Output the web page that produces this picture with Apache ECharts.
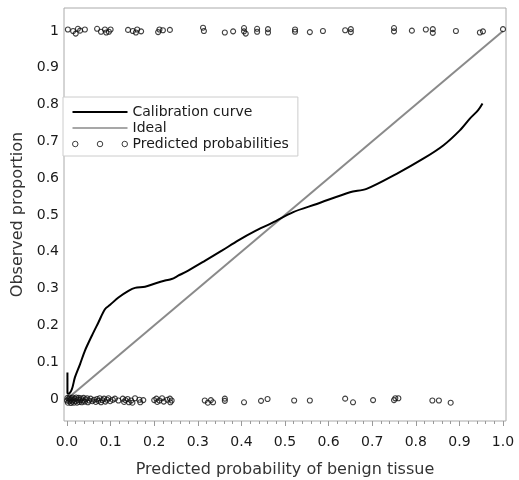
<!DOCTYPE html>
<html>
<head>
<meta charset="utf-8">
<script src="https://cdn.jsdelivr.net/npm/echarts@6/dist/echarts.min.js"></script>
<style>
  html, body { margin: 0; padding: 0; background: #fff; }
  #chart { width: 519px; height: 480px; }
</style>
</head>
<body>
<div id="chart"></div>
<script>
// calibration curve (loess-like)
var calX = [0.001, 0.001, 0.003, 0.011, 0.018, 0.030, 0.041, 0.057, 0.072, 0.087, 0.099, 0.118, 0.141, 0.156, 0.179, 0.202, 0.225, 0.240, 0.255, 0.278, 0.317, 0.355, 0.393, 0.431, 0.466, 0.519, 0.573, 0.649, 0.687, 0.756, 0.817, 0.863, 0.901, 0.924, 0.943, 0.953];
var calY = [0.072, 0.017, 0.014, 0.026, 0.058, 0.095, 0.131, 0.172, 0.208, 0.244, 0.256, 0.276, 0.294, 0.302, 0.305, 0.314, 0.322, 0.326, 0.335, 0.349, 0.376, 0.403, 0.431, 0.456, 0.476, 0.508, 0.530, 0.562, 0.571, 0.612, 0.653, 0.689, 0.730, 0.762, 0.785, 0.803];

var idealX = [0, 1];
var idealY = [0, 1];

// observed = 1 (small vertical jitter as in the original)
var topX = [0.002, 0.014, 0.020, 0.025, 0.030, 0.041, 0.069, 0.078, 0.087, 0.090, 0.096, 0.100, 0.140, 0.151, 0.158, 0.161, 0.170, 0.209, 0.212, 0.220, 0.236, 0.312, 0.314, 0.362, 0.381, 0.406, 0.406, 0.410, 0.436, 0.436, 0.461, 0.461, 0.523, 0.523, 0.557, 0.587, 0.638, 0.651, 0.651, 0.750, 0.750, 0.791, 0.823, 0.839, 0.839, 0.892, 0.947, 0.954, 1.000];
var topY = [1.004, 1.000, 0.993, 1.006, 1.001, 1.004, 1.006, 0.998, 1.004, 0.996, 0.998, 1.004, 1.003, 1.000, 0.996, 1.004, 0.999, 0.997, 1.004, 1.002, 1.003, 1.009, 1.000, 0.996, 0.999, 1.008, 0.999, 0.993, 1.006, 0.998, 1.005, 0.996, 1.004, 0.998, 0.997, 1.000, 1.002, 1.005, 0.997, 1.008, 0.999, 1.001, 1.004, 1.005, 0.995, 1.000, 0.996, 0.999, 1.005];

// observed = 0
var botX = [0.000, 0.001, 0.002, 0.004, 0.005, 0.006, 0.008, 0.009, 0.010, 0.012, 0.013, 0.015, 0.016, 0.018, 0.020, 0.021, 0.023, 0.025, 0.027, 0.028, 0.030, 0.032, 0.034, 0.036, 0.038, 0.041, 0.043, 0.046, 0.048, 0.051, 0.054, 0.058, 0.062, 0.066, 0.069, 0.072, 0.075, 0.078, 0.081, 0.085, 0.088, 0.092, 0.095, 0.099, 0.105, 0.110, 0.118, 0.128, 0.131, 0.134, 0.139, 0.142, 0.147, 0.150, 0.156, 0.166, 0.168, 0.175, 0.200, 0.205, 0.207, 0.212, 0.218, 0.222, 0.230, 0.236, 0.237, 0.240, 0.316, 0.323, 0.330, 0.335, 0.362, 0.362, 0.406, 0.445, 0.460, 0.521, 0.557, 0.638, 0.656, 0.702, 0.750, 0.753, 0.760, 0.838, 0.853, 0.880];
var botY = [-0.004, 0.003, -0.010, 0.000, -0.006, 0.004, -0.002, -0.011, 0.002, -0.007, 0.004, -0.003, -0.010, 0.001, -0.006, 0.004, -0.010, -0.002, 0.003, -0.008, -0.003, 0.002, -0.009, -0.004, 0.003, -0.007, -0.001, 0.002, -0.009, -0.004, 0.001, -0.006, -0.002, -0.008, 0.000, -0.005, 0.002, -0.009, -0.003, 0.001, -0.007, -0.002, 0.002, -0.006, -0.002, 0.001, -0.004, 0.001, -0.008, -0.003, 0.000, -0.009, -0.004, -0.010, 0.002, -0.002, -0.009, -0.003, -0.003, 0.001, -0.008, -0.004, 0.002, -0.007, -0.002, 0.001, -0.009, -0.004, -0.004, -0.010, -0.003, -0.009, -0.005, 0.001, -0.009, -0.005, 0.000, -0.004, -0.004, 0.001, -0.009, -0.003, -0.003, 0.002, 0.002, -0.004, -0.004, -0.010];

var yTicks = [0, 0.1, 0.2, 0.3, 0.4, 0.5, 0.6, 0.7, 0.8, 0.9, 1];

function zip(a, b) {
    return a.map(function (v, i) { return [v, b[i]]; });
}

var font = 'DejaVu Sans';
var chart = echarts.init(document.getElementById('chart'));

chart.setOption({
    animation: false,
    backgroundColor: '#fff',
    textStyle: { fontFamily: font },
    grid: [
        // outer frame
        { left: 64, right: 13, top: 8, bottom: 59, outerBoundsMode: 'none', show: true, borderColor: '#aaa', borderWidth: 1, backgroundColor: '#fff' },
        // data area: x spans 0..1 exactly, y padded like the frame
        { left: 67, right: 16, top: 8, bottom: 59, outerBoundsMode: 'none' }
    ],
    legend: {
        orient: 'vertical',
        left: 63,
        top: 97,
        padding: [8, 9, 5, 9],
        itemWidth: 55,
        itemHeight: 14,
        itemGap: 2,
        backgroundColor: '#fff',
        borderColor: '#ccc',
        borderWidth: 1,
        borderRadius: 0,
        textStyle: { fontFamily: font, fontSize: 14, color: '#1a1a1a' },
        data: [
            {
                name: 'Calibration curve',
                icon: 'path://M0,0L55,0L55,2L0,2Z',
                itemStyle: { color: '#000', borderWidth: 0 }
            },
            {
                name: 'Ideal',
                icon: 'path://M0,0L55,0L55,1.6L0,1.6Z',
                itemStyle: { color: '#8a8a8a', borderWidth: 0 }
            },
            {
                name: 'Predicted probabilities',
                icon: 'path://M0,2.5a2.5,2.5 0 1,0 5,0a2.5,2.5 0 1,0 -5,0M22.5,2.5a2.5,2.5 0 1,0 5,0a2.5,2.5 0 1,0 -5,0M45,2.5a2.5,2.5 0 1,0 5,0a2.5,2.5 0 1,0 -5,0',
                itemStyle: { color: 'transparent', borderColor: '#111', borderWidth: 1 }
            }
        ]
    },
    xAxis: [
        { gridIndex: 0, type: 'value', min: 0, max: 1, show: false },
        {
            gridIndex: 1,
            type: 'value',
            position: 'bottom',
            min: 0,
            max: 1,
            interval: 0.1,
            name: 'Predicted probability of benign tissue',
            nameLocation: 'middle',
            nameGap: 41,
            nameTextStyle: { fontFamily: font, fontSize: 16, color: '#333' },
            axisLine: { show: false, onZero: false },
            axisTick: { show: true, length: 5, lineStyle: { color: '#999' } },
            minorTick: { show: true, splitNumber: 5, length: 3, lineStyle: { color: '#999' } },
            splitLine: { show: false },
            axisLabel: {
                fontFamily: font,
                fontSize: 14,
                color: '#1a1a1a',
                margin: 14,
                formatter: function (v) { return v.toFixed(1); }
            }
        }
    ],
    yAxis: [
        { gridIndex: 0, type: 'value', min: 0, max: 1, show: false },
        {
            gridIndex: 1,
            type: 'value',
            position: 'left',
            min: -22 / 368,
            max: 1 + 23 / 368,
            name: 'Observed proportion',
            nameLocation: 'middle',
            nameGap: 31,
            nameTextStyle: { fontFamily: font, fontSize: 16, color: '#333' },
            axisLine: { show: false, onZero: false },
            axisTick: { show: false },
            splitLine: { show: false },
            axisLabel: {
                fontFamily: font,
                fontSize: 14,
                color: '#1a1a1a',
                margin: 8,
                customValues: yTicks,
                formatter: function (v) {
                    if (Math.abs(v) < 1e-9) return '0';
                    if (Math.abs(v - 1) < 1e-9) return '1';
                    return v.toFixed(1);
                }
            }
        }
    ],
    series: [
        {
            name: 'Calibration curve',
            type: 'line',
            xAxisIndex: 1,
            yAxisIndex: 1,
            data: zip(calX, calY),
            symbol: 'none',
            smooth: 0.3,
            lineStyle: { color: '#000', width: 2 },
            itemStyle: { color: '#000' },
            z: 4
        },
        {
            name: 'Ideal',
            type: 'line',
            xAxisIndex: 1,
            yAxisIndex: 1,
            data: zip(idealX, idealY),
            symbol: 'none',
            lineStyle: { color: '#8a8a8a', width: 2 },
            itemStyle: { color: '#8a8a8a' },
            z: 3
        },
        {
            name: 'Predicted probabilities',
            type: 'scatter',
            xAxisIndex: 1,
            yAxisIndex: 1,
            data: zip(topX, topY).concat(zip(botX, botY)),
            symbol: 'circle',
            symbolSize: 5,
            itemStyle: { color: 'transparent', borderColor: '#111', borderWidth: 1.1 },
            z: 5
        }
    ]
});
</script>
</body>
</html>
